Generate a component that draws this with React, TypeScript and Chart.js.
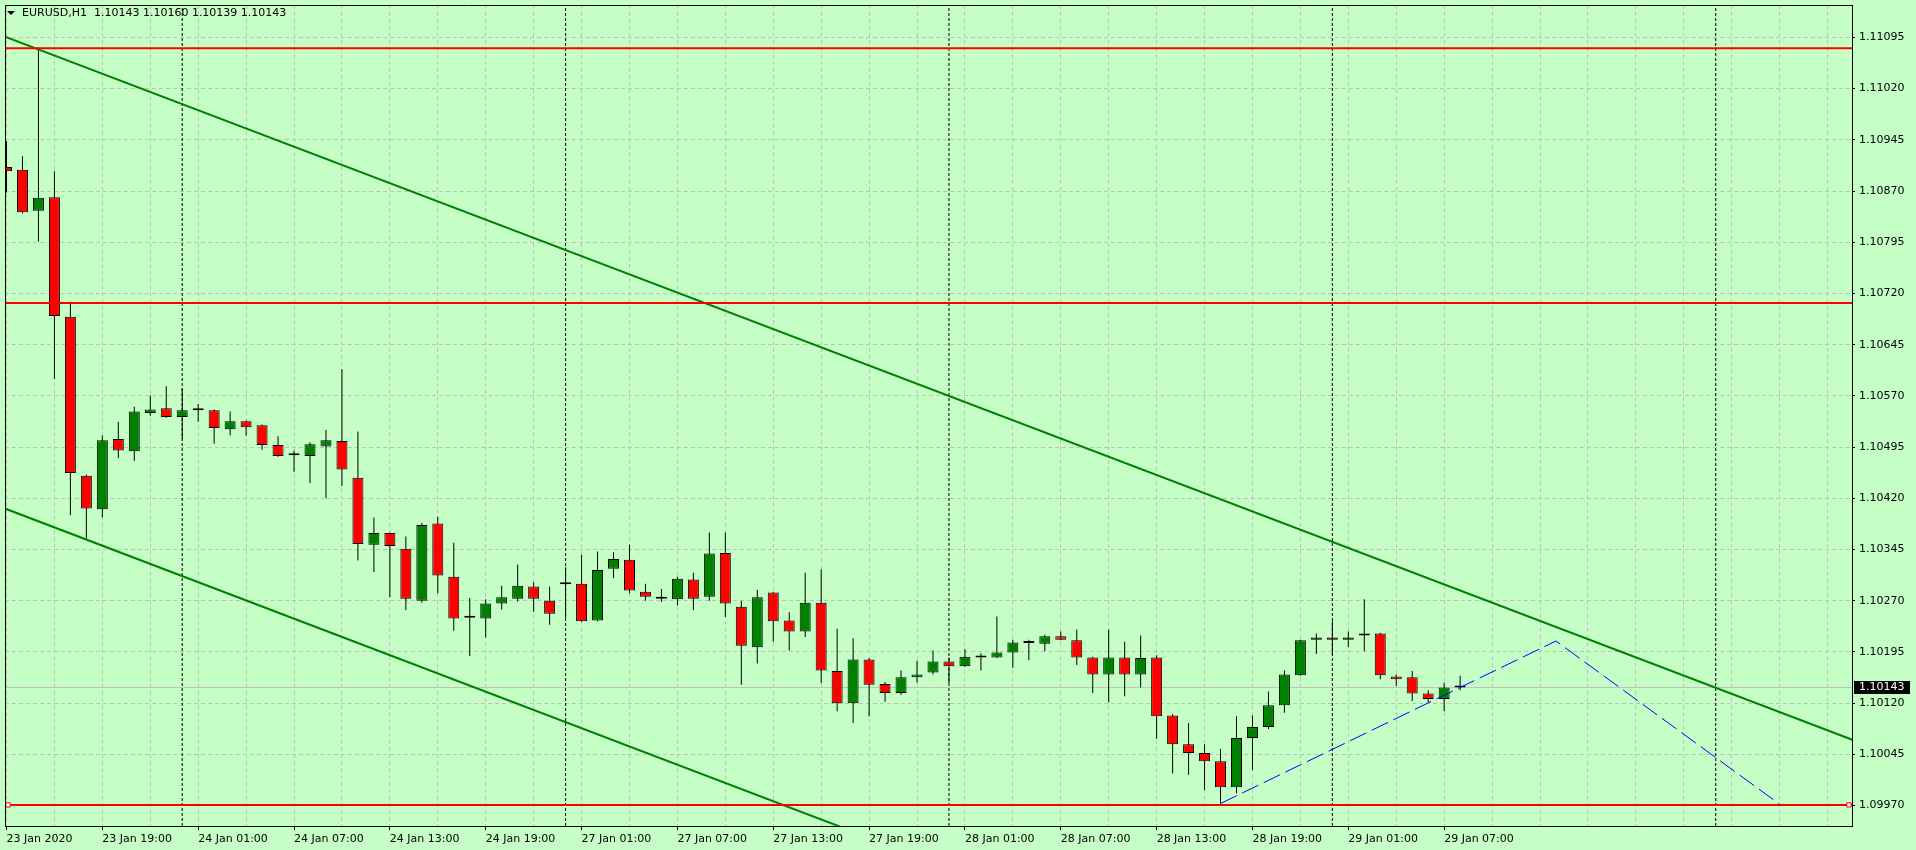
import React, { useEffect, useRef } from "react";
import { Chart, registerables } from "chart.js";

Chart.register(...registerables);

// ---------- data ----------
const SYMBOL = "EURUSD,H1";

const opens = [
  1.10905, 1.10901, 1.10841, 1.10861, 1.10686, 1.10453, 1.10404, 1.10507, 1.10489, 1.10545,
  1.10552, 1.10539, 1.10549, 1.10549, 1.10521, 1.10533, 1.10527, 1.10498, 1.10483, 1.10482,
  1.10496, 1.10504, 1.10450, 1.10352, 1.10369, 1.10346, 1.10270, 1.10383, 1.10305, 1.10245,
  1.10244, 1.10266, 1.10273, 1.10291, 1.10270, 1.10294, 1.10295, 1.10241, 1.10317, 1.10330,
  1.10283, 1.10276, 1.10272, 1.10301, 1.10276, 1.10340, 1.10261, 1.10202, 1.10282, 1.10241,
  1.10225, 1.10267, 1.10167, 1.10120, 1.10184, 1.10148, 1.10135, 1.10158, 1.10165, 1.10181,
  1.10174, 1.10187, 1.10187, 1.10194, 1.10208, 1.10207, 1.10218, 1.10212, 1.10187, 1.10162,
  1.10187, 1.10162, 1.10187, 1.10102, 1.10060, 1.10047, 1.10035, 1.09997, 1.10069, 1.10085,
  1.10117, 1.10161, 1.10213, 1.10216, 1.10213, 1.10219, 1.10222, 1.10159, 1.10158, 1.10134,
  1.10126, 1.10143,
];
const highs = [
  1.10943, 1.10921, 1.11080, 1.10899, 1.10708, 1.10455, 1.10512, 1.10532, 1.10554, 1.10571,
  1.10584, 1.10581, 1.10558, 1.10550, 1.10547, 1.10534, 1.10528, 1.10511, 1.10490, 1.10502,
  1.10520, 1.10609, 1.10518, 1.10392, 1.10370, 1.10364, 1.10384, 1.10393, 1.10355, 1.10274,
  1.10272, 1.10292, 1.10323, 1.10297, 1.10291, 1.10319, 1.10337, 1.10342, 1.10341, 1.10352,
  1.10295, 1.10287, 1.10305, 1.10311, 1.10370, 1.10370, 1.10270, 1.10286, 1.10283, 1.10253,
  1.10311, 1.10316, 1.10229, 1.10215, 1.10186, 1.10151, 1.10168, 1.10182, 1.10197, 1.10187,
  1.10199, 1.10193, 1.10247, 1.10213, 1.10213, 1.10220, 1.10225, 1.10228, 1.10188, 1.10228,
  1.10210, 1.10219, 1.10190, 1.10104, 1.10091, 1.10060, 1.10053, 1.10101, 1.10102, 1.10137,
  1.10168, 1.10213, 1.10222, 1.10240, 1.10225, 1.10272, 1.10223, 1.10162, 1.10167, 1.10139,
  1.10150, 1.10160,
];
const lows = [
  1.10868, 1.10837, 1.10796, 1.10595, 1.10395, 1.10361, 1.10392, 1.10479, 1.10475, 1.10541,
  1.10538, 1.10507, 1.10532, 1.10500, 1.10512, 1.10512, 1.10491, 1.10481, 1.10459, 1.10442,
  1.10420, 1.10438, 1.10329, 1.10312, 1.10275, 1.10256, 1.10267, 1.10281, 1.10226, 1.10189,
  1.10216, 1.10257, 1.10269, 1.10254, 1.10235, 1.10245, 1.10239, 1.10240, 1.10303, 1.10281,
  1.10270, 1.10268, 1.10263, 1.10256, 1.10270, 1.10246, 1.10147, 1.10178, 1.10210, 1.10197,
  1.10217, 1.10149, 1.10108, 1.10091, 1.10101, 1.10122, 1.10132, 1.10150, 1.10162, 1.10149,
  1.10173, 1.10168, 1.10186, 1.10172, 1.10183, 1.10196, 1.10212, 1.10176, 1.10135, 1.10121,
  1.10130, 1.10143, 1.10068, 1.10017, 1.10015, 1.09993, 1.09973, 1.09988, 1.10022, 1.10082,
  1.10106, 1.10160, 1.10192, 1.10191, 1.10202, 1.10196, 1.10155, 1.10145, 1.10123, 1.10121,
  1.10108, 1.10139,
];
const closes = [
  1.10899, 1.10839, 1.10860, 1.10687, 1.10457, 1.10405, 1.10505, 1.10490, 1.10547, 1.10550,
  1.10539, 1.10549, 1.10549, 1.10523, 1.10533, 1.10524, 1.10498, 1.10482, 1.10483, 1.10499,
  1.10505, 1.10462, 1.10353, 1.10369, 1.10350, 1.10273, 1.10381, 1.10307, 1.10244, 1.10245,
  1.10266, 1.10275, 1.10292, 1.10273, 1.10251, 1.10294, 1.10240, 1.10315, 1.10331, 1.10285,
  1.10276, 1.10273, 1.10302, 1.10273, 1.10339, 1.10266, 1.10204, 1.10275, 1.10240, 1.10225,
  1.10267, 1.10168, 1.10120, 1.10184, 1.10147, 1.10135, 1.10158, 1.10162, 1.10181, 1.10174,
  1.10188, 1.10187, 1.10194, 1.10209, 1.10208, 1.10218, 1.10213, 1.10187, 1.10162, 1.10187,
  1.10162, 1.10186, 1.10101, 1.10060, 1.10047, 1.10035, 1.09997, 1.10069, 1.10085, 1.10117,
  1.10162, 1.10212, 1.10216, 1.10213, 1.10216, 1.10222, 1.10161, 1.10155, 1.10134, 1.10126,
  1.10143, 1.10143,
];

// time-axis labels (bar index -> text)
const xLabelBars = [0, 6, 12, 18, 24, 30, 36, 42, 48, 54, 60, 66, 72, 78, 84, 90];
const xLabels = [
  "23 Jan 2020", "23 Jan 19:00", "24 Jan 01:00", "24 Jan 07:00", "24 Jan 13:00", "24 Jan 19:00",
  "27 Jan 01:00", "27 Jan 07:00", "27 Jan 13:00", "27 Jan 19:00", "28 Jan 01:00", "28 Jan 07:00",
  "28 Jan 13:00", "28 Jan 19:00", "29 Jan 01:00", "29 Jan 07:00",
];
// day separators (bar index of 00:00)
const separatorBars = [11, 35, 59, 83, 107];

// price axis ticks
const yTicks = [
  1.0997, 1.10045, 1.1012, 1.10195, 1.1027, 1.10345, 1.1042, 1.10495,
  1.1057, 1.10645, 1.1072, 1.10795, 1.1087, 1.10945, 1.1102, 1.11095,
];

// drawn objects
const levelPrices = [1.11079, 1.10706, 1.09971];
const channelBars = [-0.1, 115.6];
const channelUpper = [1.11096, 1.10066];
const channelLower = [1.10405, 1.09374];
const projectionBars = [76, 97, 111];
const projectionPrices = [1.09973, 1.10211, 1.09972];
const handleBars = [0.1, 115.34];

// ---------- view ----------
const X_MIN = -0.09375;
const X_MAX = 115.53125;
const Y_MIN = 1.099401;
const Y_MAX = 1.111424;
const BG = "#C6FFC6";
const FONT = { family: "'DejaVu Sans', sans-serif", size: 11 };

const lastIdx = closes.length - 1;

const overlayPlugin = {
  id: "mtOverlay",
  afterDraw(chart: any) {
    const { ctx, chartArea: a, scales } = chart;
    ctx.save();
    // left + top frame
    ctx.strokeStyle = "#000";
    ctx.lineWidth = 1;
    ctx.beginPath();
    ctx.moveTo(Math.floor(a.left) + 0.5, Math.floor(a.bottom) + 0.5);
    ctx.lineTo(Math.floor(a.left) + 0.5, Math.floor(a.top) + 0.5);
    ctx.lineTo(Math.floor(a.right) + 0.5, Math.floor(a.top) + 0.5);
    ctx.stroke();
    // title
    ctx.fillStyle = "#000";
    ctx.beginPath();
    ctx.moveTo(7, 11);
    ctx.lineTo(15, 11);
    ctx.lineTo(11, 15);
    ctx.closePath();
    ctx.fill();
    ctx.font = "11px 'DejaVu Sans', sans-serif";
    ctx.textAlign = "left";
    ctx.textBaseline = "middle";
    const title =
      SYMBOL + "  " +
      [opens[lastIdx], highs[lastIdx], lows[lastIdx], closes[lastIdx]].map((v) => v.toFixed(5)).join(" ");
    ctx.fillText(title, 22, 13);
    // current price label
    const last = closes[lastIdx];
    const y = scales.y.getPixelForValue(last);
    ctx.fillStyle = "#000";
    ctx.fillRect(Math.round(a.right) + 2, Math.round(y) - 6, 56, 13);
    ctx.fillStyle = "#fff";
    ctx.fillText(last.toFixed(5), Math.round(a.right) + 7, Math.round(y) + 0.5);
    ctx.restore();
  },
};

function buildConfig(): any {
  const idx = opens.map((_, i) => i);
  const bodyColors = idx.map((i) =>
    closes[i] > opens[i] ? "#008000" : closes[i] < opens[i] ? "#FF0000" : "#000000"
  );
  const gridTicks: number[] = [];
  for (let k = 0; k <= X_MAX; k += 3) gridTicks.push(k);

  const lineBase = { type: "line", pointRadius: 0, tension: 0, fill: false, clip: 0 };

  const datasets: any[] = [
    ...separatorBars.map((k) => ({
      ...lineBase,
      label: "sep" + k,
      data: [{ x: k, y: Y_MIN }, { x: k, y: Y_MAX }],
      borderColor: "#000",
      borderWidth: 1,
      borderDash: [3, 2],
      order: 7,
    })),
    {
      ...lineBase,
      label: "price",
      data: [{ x: X_MIN - 1, y: closes[lastIdx] }, { x: X_MAX + 1, y: closes[lastIdx] }],
      borderColor: "#C0C0C0",
      borderWidth: 1,
      order: 6,
    },
    {
      type: "bar",
      label: "wicks",
      data: idx.map((i) => ({ x: i, y: [lows[i], highs[i]] })),
      backgroundColor: "#000",
      borderWidth: 0,
      barThickness: 1,
      grouped: false,
      inflateAmount: 0,
      order: 5,
    },
    {
      type: "bar",
      label: "bodies",
      data: idx.map((i) => ({ x: i, y: [opens[i], closes[i]] })),
      backgroundColor: bodyColors,
      borderColor: "#000",
      borderWidth: 1,
      borderSkipped: false,
      barThickness: 11,
      minBarLength: 2,
      grouped: false,
      inflateAmount: 0,
      order: 4,
    },
    ...levelPrices.map((p, j) => ({
      ...lineBase,
      label: "level" + j,
      data: [{ x: X_MIN - 1, y: p }, { x: X_MAX + 1, y: p }],
      borderColor: "#FF0000",
      borderWidth: 2,
      order: 2,
    })),
    {
      ...lineBase,
      label: "upper",
      data: channelBars.map((b, j) => ({ x: b, y: channelUpper[j] })),
      borderColor: "#008000",
      borderWidth: 2,
      order: 2,
    },
    {
      ...lineBase,
      label: "lower",
      data: channelBars.map((b, j) => ({ x: b, y: channelLower[j] })),
      borderColor: "#008000",
      borderWidth: 2,
      order: 2,
    },
    {
      ...lineBase,
      label: "projection",
      data: projectionBars.map((b, j) => ({ x: b, y: projectionPrices[j] })),
      borderColor: "#0000FF",
      borderWidth: 1,
      borderDash: [18, 6],
      order: 1,
    },
    {
      type: "line",
      label: "handles",
      showLine: false,
      data: handleBars.map((b) => ({ x: b, y: levelPrices[2] })),
      pointStyle: "rect",
      pointRadius: 3,
      pointBorderColor: "#FF0000",
      pointBackgroundColor: "#FFFFFF",
      pointBorderWidth: 1,
      clip: 0,
      order: 0,
    },
  ];

  return {
    type: "bar",
    data: { datasets },
    plugins: [overlayPlugin],
    options: {
      animation: false,
      responsive: false,
      maintainAspectRatio: false,
      devicePixelRatio: 1,
      layout: { padding: { left: 2, top: 2, right: 0, bottom: 0 } },
      plugins: { legend: { display: false }, tooltip: { enabled: false }, title: { display: false } },
      events: [],
      scales: {
        x: {
          type: "linear",
          position: "bottom",
          min: X_MIN,
          max: X_MAX,
          offset: false,
          bounds: "data",
          afterBuildTicks: (axis: any) => {
            axis.ticks = gridTicks.map((v) => ({ value: v }));
          },
          afterFit: (scale: any) => {
            scale.height = 24;
            scale.paddingLeft = 0;
            scale.paddingRight = 0;
          },
          ticks: {
            autoSkip: false,
            maxRotation: 0,
            minRotation: 0,
            align: "start",
            padding: 3,
            color: "#000",
            font: FONT,
            callback: (value: any) => {
              const i = xLabelBars.indexOf(Number(value));
              return i >= 0 ? xLabels[i] : "";
            },
          },
          grid: {
            offset: false,
            color: "#C0C0C0",
            lineWidth: 1,
            drawTicks: true,
            tickLength: 4,
            tickColor: (c: any) =>
              c.tick && xLabelBars.indexOf(c.tick.value) >= 0 ? "#000" : "rgba(0,0,0,0)",
          },
          border: { display: true, color: "#000", width: 1, dash: [4, 3] },
        },
        y: {
          type: "linear",
          position: "right",
          min: Y_MIN,
          max: Y_MAX,
          bounds: "data",
          afterBuildTicks: (axis: any) => {
            axis.ticks = yTicks.map((v) => ({ value: v }));
          },
          afterFit: (scale: any) => {
            scale.width = 64;
            scale.paddingTop = 0;
            scale.paddingBottom = 0;
          },
          ticks: {
            autoSkip: false,
            padding: 4,
            color: "#000",
            font: FONT,
            callback: (value: any) => Number(value).toFixed(5),
          },
          grid: {
            color: "#C0C0C0",
            lineWidth: 1,
            drawTicks: true,
            tickLength: 3,
            tickColor: "#000",
          },
          border: { display: true, color: "#000", width: 1, dash: [4, 3] },
        },
      },
    },
  };
}

export default function App() {
  const ref = useRef<HTMLCanvasElement | null>(null);
  useEffect(() => {
    if (!ref.current) return;
    const chart = new Chart(ref.current, buildConfig());
    return () => chart.destroy();
  }, []);
  return (
    <div style={{ position: "fixed", left: 0, top: 0, width: 1916, height: 850, background: BG }}>
      <canvas ref={ref} width={1916} height={850} style={{ display: "block", width: 1916, height: 850 }} />
    </div>
  );
}
